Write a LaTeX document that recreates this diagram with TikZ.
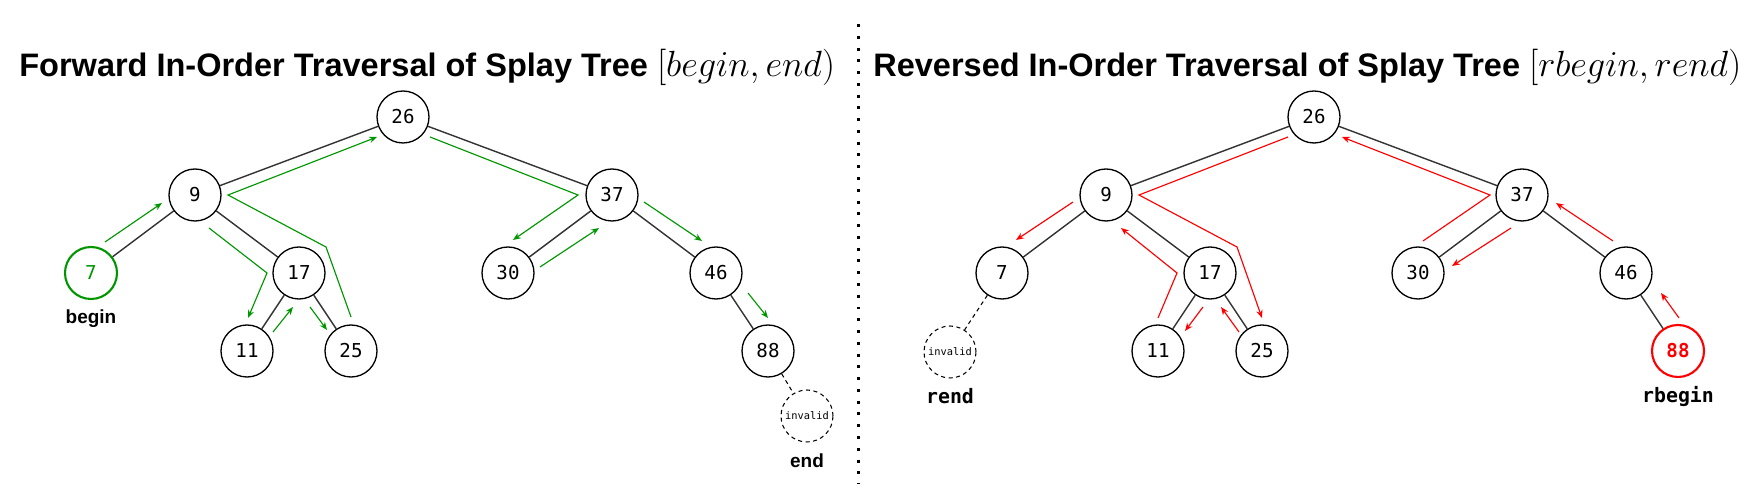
\documentclass[tikz,border=0pt]{standalone}
\usepackage[no-math]{fontspec}
\setmainfont{Liberation Sans}
\setmonofont{DejaVu Sans Mono}
\usetikzlibrary{arrows.meta,calc}

\definecolor{fwdgreen}{RGB}{0,150,0}
\definecolor{revred}{RGB}{255,0,0}

\tikzstyle{title} = [anchor=base west,inner sep=0pt,font=\bfseries\fontsize{18.5}{22}\selectfont]
\tikzstyle{tag} = [font=\bfseries\fontsize{10.8}{13}\selectfont]
\tikzstyle{codetag} = [font=\ttfamily\bfseries\fontsize{11.3}{13}\selectfont]
\tikzstyle{vertex}=[circle,draw,line width=0.75pt,minimum size=1.04cm,inner sep=0pt,font=\ttfamily\fontsize{10.9}{13}\selectfont]
\tikzstyle{greenvertex}=[vertex,draw=fwdgreen,text=fwdgreen,line width=1.2pt]
\tikzstyle{redvertex}=[vertex,draw=revred,text=revred,line width=1.2pt,font=\ttfamily\bfseries\fontsize{10.9}{13}\selectfont]
\tikzstyle{nullvertex}=[vertex,line width=0.6pt,dash pattern=on 2.3pt off 2pt,font=\ttfamily\fontsize{5.9}{7}\selectfont]
\tikzstyle{treeedge} = [draw,line width=0.8pt,black!80,-]
\tikzstyle{nulledge} = [draw,line width=0.6pt,dash pattern=on 2.3pt off 2pt,-]
\tikzstyle{walk}=[->,>={Stealth[length=4.5pt,width=3.6pt]},line width=0.65pt]

\begin{document}
\begin{tikzpicture}[x=0.02cm,y=-0.02cm]
  \useasboundingbox (0,0) rectangle (1764,502);
  %titles
  \node[title] (fwdtitle) at (19,77) {Forward In-Order Traversal of Splay Tree {\fontsize{21}{24}\selectfont$[begin, end)$}};
  \node[title] (revtitle) at (873,77) {Reversed In-Order Traversal of Splay Tree {\fontsize{20.7}{24}\selectfont$[rbegin, rend)$}};
  \draw[line width=1.7pt,dash pattern=on 1.7pt off 5pt] (858,24) -- (858,484);

  %nodes
  \foreach \nodename/\x/\y/\value/\kind in {
    L26/403/117/26/vertex, L9/195/195/9/vertex, L7/91/273/7/greenvertex,
    L17/299/273/17/vertex, L11/247/351/11/vertex, L25/351/351/25/vertex,
    L37/612/195/37/vertex, L30/508/273/30/vertex, L46/716/273/46/vertex,
    L88/768/351/88/vertex, Lnull/807/416/invalid/nullvertex,
    R26/1314/117/26/vertex, R9/1106/195/9/vertex, R7/1002/273/7/vertex,
    R17/1210/273/17/vertex, R11/1158/351/11/vertex, R25/1262/351/25/vertex,
    R37/1522/195/37/vertex, R30/1418/273/30/vertex, R46/1626/273/46/vertex,
    R88/1678/351/88/redvertex, Rnull/950/352/invalid/nullvertex}
  {
    \node[\kind] (\nodename) at (\x,\y) {\value};
  };
  \node[tag] (begintag) at ($(L7)+(0,46)$) {begin};
  \node[tag] (endtag) at ($(Lnull)+(0,45)$) {end};
  \node[codetag] (rendtag) at ($(Rnull)+(0,44)$) {rend};
  \node[codetag] (rbegintag) at ($(R88)+(0,45)$) {rbegin};

  %edges
  \path
  \foreach \startnode/\endnode in {
    L26/L9, L26/L37, L9/L7, L9/L17, L17/L11, L17/L25, L37/L30, L37/L46, L46/L88,
    R26/R9, R26/R37, R9/R7, R9/R17, R17/R11, R17/R25, R37/R30, R37/R46, R46/R88}
  {
    (\startnode) edge[treeedge] (\endnode)
  };
  \path (L88) edge[nulledge] (Lnull)
        (R7) edge[nulledge] (Rnull);

  %forward walk
  \foreach \a/\ax/\ay/\b/\bx/\by in {
    L7/14/-31/L9/-33/8, L11/26/-19/L17/-6/34, L17/11/34/L25/-24/-21,
    L30/32/-6/L37/-13/33, L37/32/7/L46/-14/-32, L46/32/20/L88/0/-33}
  {
    \draw[walk,fwdgreen] ($(\a)+(\ax,\ay)$) -- ($(\b)+(\bx,\by)$);
  };
  \draw[walk,fwdgreen] ($(L9)+(14,33)$) -- ($(L17)+(-32,0)$) -- ($(L11)+(1,-33)$);
  \draw[walk,fwdgreen] ($(L25)+(0,-34)$) -- ($(L17)+(27,-26)$) -- ($(L9)+(33,0)$) -- ($(L26)+(-26,20)$);
  \draw[walk,fwdgreen] ($(L26)+(27,20)$) -- ($(L37)+(-34,0)$) -- ($(L30)+(5,-33)$);

  %reversed walk
  \foreach \a/\ax/\ay/\b/\bx/\by in {
    R88/1/-33/R46/35/20, R46/-13/-32/R37/34/8, R37/-11/33/R30/34/-7,
    R25/-23/-19/R17/11/34, R17/-7/34/R11/27/-20, R9/-33/7/R7/14/-33}
  {
    \draw[walk,revred] ($(\a)+(\ax,\ay)$) -- ($(\b)+(\bx,\by)$);
  };
  \draw[walk,revred] ($(R30)+(5,-32)$) -- ($(R37)+(-32,0)$) -- ($(R26)+(28,20)$);
  \draw[walk,revred] ($(R26)+(-26,20)$) -- ($(R9)+(33,0)$) -- ($(R17)+(27,-26)$) -- ($(R25)+(0,-33)$);
  \draw[walk,revred] ($(R11)+(0,-33)$) -- ($(R17)+(-33,0)$) -- ($(R9)+(15,33)$);
\end{tikzpicture}
\end{document}
